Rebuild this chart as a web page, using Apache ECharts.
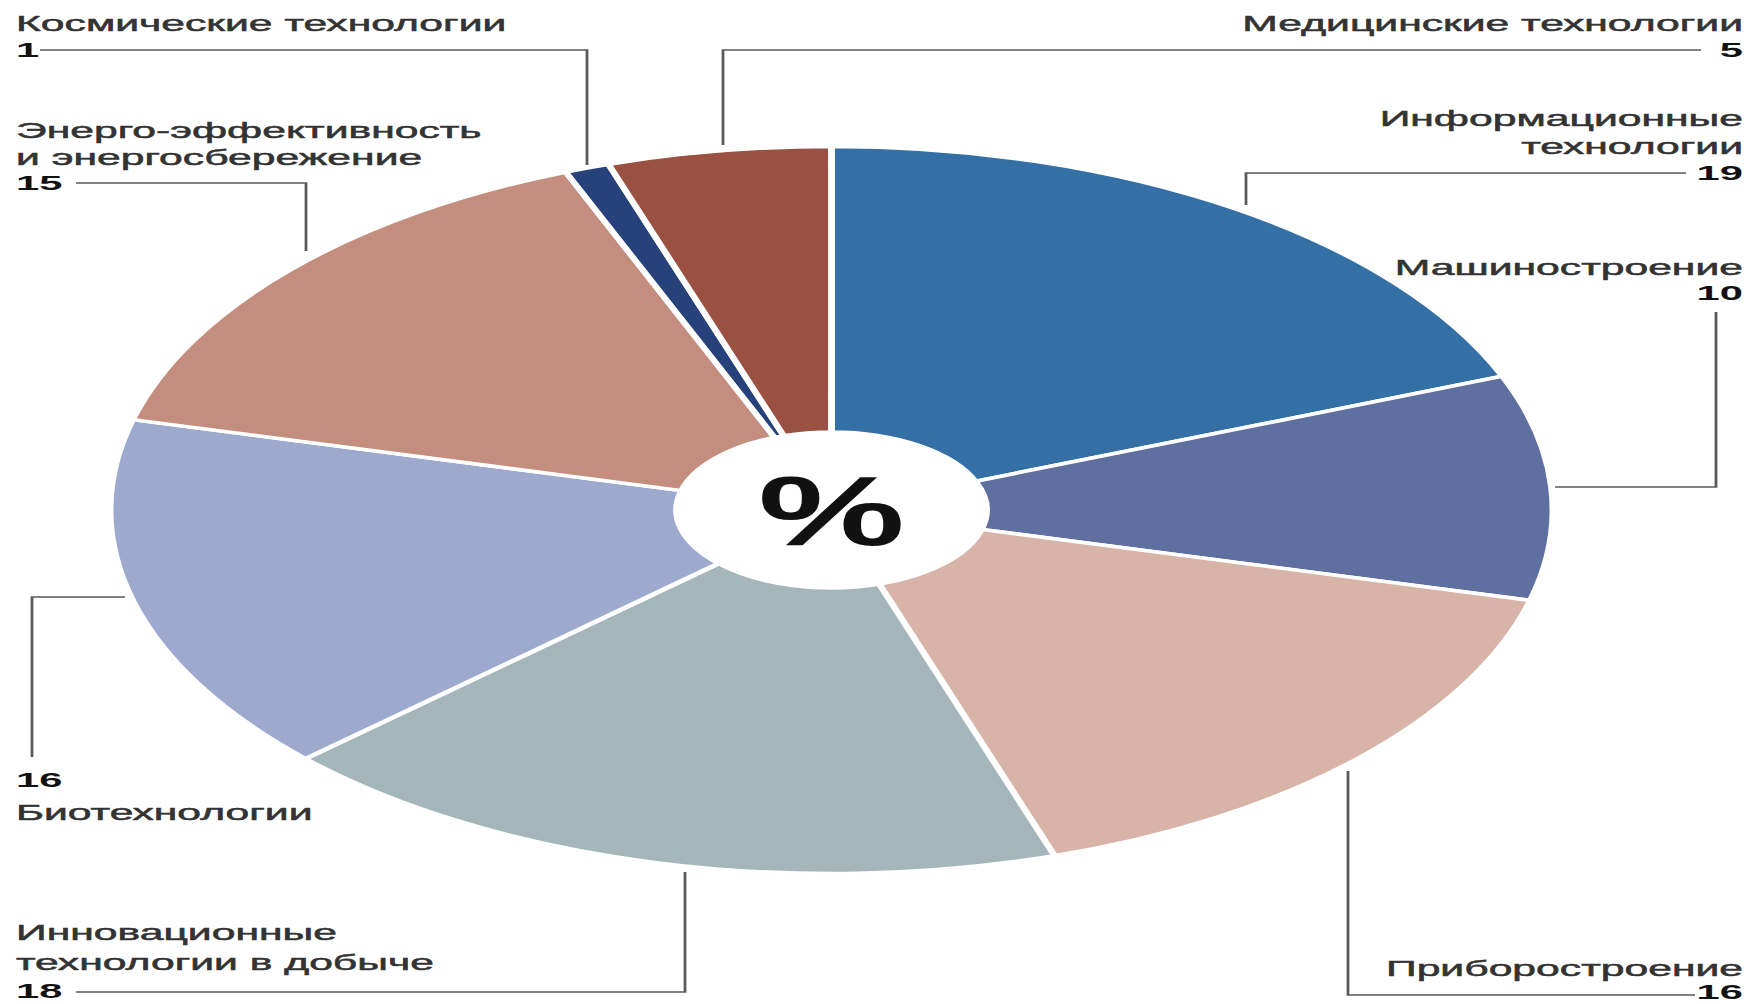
<!DOCTYPE html>
<html>
<head>
<meta charset="utf-8">
<script src="https://cdn.jsdelivr.net/npm/echarts@6/dist/echarts.min.js"></script>
<style>
html,body{margin:0;padding:0;background:#fff;overflow:hidden}
#wrap{position:relative;width:1750px;height:1004px;overflow:hidden;background:#fff}
#c{position:absolute;left:0;top:0;height:1004px;transform-origin:0 0}
</style>
</head>
<body>
<div id="wrap"><div id="c"></div></div>
<script>
// ---- data ----
const categories = ['Информационные технологии', 'Машиностроение', 'Приборостроение',
  'Инновационные технологии в добыче', 'Биотехнологии',
  'Энерго-эффективность и энергосбережение', 'Космические технологии', 'Медицинские технологии'];
const values = [19, 10, 16, 18, 16, 15, 1, 5];
const titleLines = [
  ['Информационные', 'технологии'],
  ['Машиностроение'],
  ['Приборостроение'],
  ['Инновационные', 'технологии в добыче'],
  ['Биотехнологии'],
  ['Энерго-эффективность', 'и энергосбережение'],
  ['Космические технологии'],
  ['Медицинские технологии']
];
const centerLabel = '%';
const colors = ['#3470a6', '#5f70a0', '#d8b3a7', '#a5b6bb', '#9eaacd', '#c48e7e', '#27427a', '#9b5142'];

// ---- layout (page pixels; the drawing is stretched horizontally by S) ----
const S = 1.985;
const W = 1750, H = 1004;
const UW = W / S;
const CX = 831.5, CY = 510, R = 363.5, R0 = 78;
// label blocks: align, x, title line y's, number y
const labelLayout = [
  {align: 'right', x: 1743, ty: [118, 146], ny: 173},
  {align: 'right', x: 1743, ty: [267], ny: 293},
  {align: 'right', x: 1743, ty: [968], ny: 992},
  {align: 'left', x: 16, ty: [932, 962], ny: 991},
  {align: 'left', x: 16, ty: [812], ny: 780},
  {align: 'left', x: 16, ty: [130, 157], ny: 183},
  {align: 'left', x: 16, ty: [23], ny: 50},
  {align: 'right', x: 1743, ty: [23], ny: 50}
];
const leaders = [
  [[1686, 173], [1246, 173], [1246, 205]],
  [[1553, 487], [1716, 487], [1716, 312]],
  [[1348, 771], [1348, 995], [1695, 995]],
  [[685, 872], [685, 992], [76, 992]],
  [[125, 597], [32, 597], [32, 757]],
  [[76, 183], [306, 183], [306, 251]],
  [[40, 50], [587, 50], [587, 165]],
  [[1701, 50], [723, 50], [723, 145]]
];

const el = document.getElementById('c');
el.style.width = UW + 'px';
el.style.transform = 'scaleX(' + S + ')';
const chart = echarts.init(el, null, {renderer: 'svg', width: UW, height: H});

const font = '"Liberation Sans", Arial, Helvetica, sans-serif';
const graphics = [];
categories.forEach((c, i) => {
  const L = labelLayout[i];
  titleLines[i].forEach((t, k) => {
    graphics.push({type: 'text', x: L.x / S, y: L.ty[k], silent: true,
      style: {text: t, fill: '#333', stroke: '#333', lineWidth: 0.5,
        fontSize: 21.5, fontFamily: font, fontWeight: 'normal',
        align: L.align, verticalAlign: 'middle'}});
  });
  graphics.push({type: 'text', x: L.x / S, y: L.ny, silent: true,
    style: {text: String(values[i]), fill: '#111', fontSize: 21, fontFamily: font, fontWeight: 'bold',
      align: L.align, verticalAlign: 'middle'}});
  graphics.push({type: 'polyline', silent: true,
    shape: {points: leaders[i].map(p => [p[0] / S, p[1]])},
    style: {stroke: '#5a5a5a', lineWidth: 1.4, fill: null}});
});
graphics.push({type: 'text', x: CX / S, y: CY + 1, scaleX: 0.85, silent: true,
  style: {text: centerLabel, fill: '#111', fontSize: 98, fontFamily: font, fontWeight: 'bold',
    align: 'center', verticalAlign: 'middle'}});

chart.setOption({
  animation: false,
  backgroundColor: '#fff',
  color: colors,
  series: [{
    type: 'pie',
    center: [CX / S, CY],
    radius: [R0, R],
    startAngle: 90,
    clockwise: true,
    avoidLabelOverlap: false,
    label: {show: false},
    labelLine: {show: false},
    emphasis: {disabled: true},
    itemStyle: {borderColor: '#fff', borderWidth: 3.5},
    data: categories.map((c, i) => ({name: c, value: values[i]}))
  }],
  graphic: graphics
});
</script>
</body>
</html>
